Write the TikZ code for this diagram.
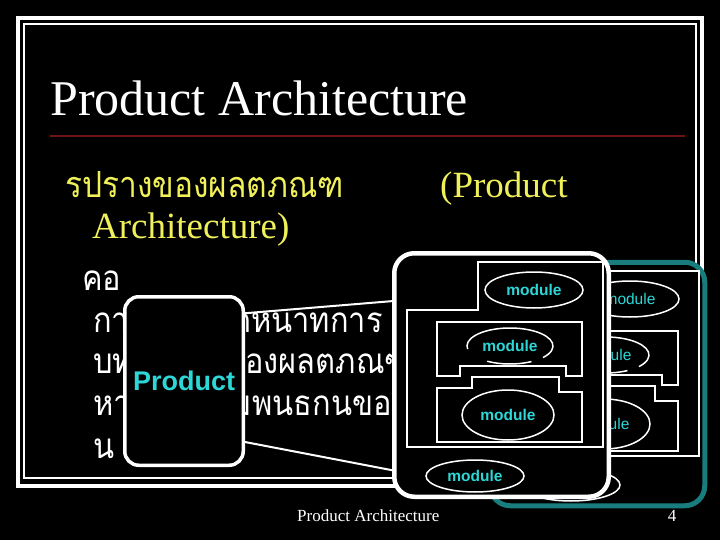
\documentclass[tikz,border=0pt]{standalone}
\usepackage{fontspec}
\setmainfont{Liberation Serif}
\newfontfamily\thai[Script=Thai, FakeStretch=0.88]{Loma}
\newfontfamily\arial{Liberation Sans}
\usetikzlibrary{shapes.geometric}
\definecolor{yel}{RGB}{240,240,90}
\definecolor{cyn}{RGB}{45,215,215}
\definecolor{tealb}{RGB}{25,125,125}
\definecolor{rulered}{RGB}{110,20,20}
\newcommand{\modgroup}[2]{%
  \draw[modline] (478,262) -- (603,262) -- (603,447) -- (407,447) -- (407,310) -- (478,310) -- cycle;
  \draw[modline] (437,322) -- (582,322) -- (582,376) -- (566,376) -- (566,366) -- (460,366) -- (460,376) -- (437,376) -- cycle;
  \draw[modline] (437,388) -- (472,388) -- (472,377) -- (559,377) -- (559,392) -- (582,392) -- (582,442) -- (437,442) -- cycle;
  \node[modell, minimum width=98pt, minimum height=36pt, font={#2}] (#1e1) at (534,290) {module};
  \node[modell, draw=none, minimum width=86pt, minimum height=36pt, font={#2}] (#1e2) at (510,346) {module};
  \draw[ellline] (#1e2.center) ++(190:43pt and 18pt) arc[start angle=190, end angle=-40, x radius=43pt, y radius=18pt];
  \draw[ellline] (#1e2.center) ++(238:43pt and 18pt) arc[start angle=238, end angle=300, x radius=43pt, y radius=18pt];
  \node[modell, minimum width=92pt, minimum height=50pt, font={#2}] (#1e3) at (508,415) {module};
  \node[modell, minimum width=98pt, minimum height=32pt, font={#2}] (#1e4) at (475,476) {module};
}
\begin{document}
\begin{tikzpicture}[x=1pt,y=-1pt,
  txt/.style={inner sep=0pt, anchor=base west, text=white},
  modline/.style={draw=white, line width=1.2pt},
  ellline/.style={draw=white, line width=1.5pt},
  modell/.style={ellipse, draw=white, line width=1.5pt, inner sep=0pt, text=cyn},
  bigbox/.style={rectangle, rounded corners=20pt, fill=black, minimum width=214.5pt, minimum height=243.5pt, inner sep=0pt},
  conn/.style={draw=white, line width=2pt}]
\fill[black] (0,0) rectangle (720,540);
\useasboundingbox (0,0) rectangle (720,540);
% frame
\draw[white, line width=4pt] (18,18) rectangle (702,486);
\draw[white, line width=1.2pt] (24,24) rectangle (696,478);
% title
\node[txt, font=\fontsize{50}{60}\selectfont] (title) at (50,116) {Product Architecture};
\draw[rulered, line width=1.5pt] (50,136) -- (685,136);
% yellow heading
\node[txt, text=yel, text depth=1pt, font=\thai\fontsize{36}{42}\selectfont] (h1) at (65,197) {รปรางของผลตภณฑ};
\node[txt, text=yel, font=\fontsize{37}{44}\selectfont] (h2) at (440,197) {(Product};
\node[txt, text=yel, text height=24pt, font=\fontsize{37}{44}\selectfont] (h3) at (92,238) {Architecture)};
% white thai body
\begin{scope}[every node/.append style={txt, text depth=1pt, font=\thai\fontsize{35}{40}\selectfont}]
\node (l0) at (82,290) {คอ};
\node (l1a) at (93,332) {การ};
\node (l1b) at (231,332) {ดหนาทการ};
\node (l2a) at (93,373) {บท};
\node (l2b) at (224,373) {ของผลตภณฑ};
\node (l3a) at (93,415) {หา};
\node (l3b) at (213,415) {สมพนธกนของ};
\node (l4) at (93,458) {น};
\end{scope}
% product box
\node[draw=white, line width=3.5pt, rounded corners=14pt, fill=black, minimum width=118.5pt, minimum height=168.5pt, inner sep=0pt, text=cyn, font={\arial\bfseries\fontsize{27}{30}\selectfont}] (prod) at (184,381) {Product};
% back group
\begin{scope}[shift={(96,9)}]
\node[bigbox, draw=tealb, line width=5pt] (tbox) at (501.5,375) {};
\modgroup{b}{\arial\fontsize{15.5}{18}\selectfont}
\end{scope}
% front group
\node[bigbox, draw=white, line width=4.5pt] (big) at (501.5,375) {};
\modgroup{f}{\arial\bfseries\fontsize{15.5}{18}\selectfont}
% connectors
\draw[conn] (prod.48) -- (big.146);
\draw[conn] (prod.-45) -- (big.221);
% footer
\node[txt, font=\fontsize{17}{20}\selectfont] (foot) at (297,521) {Product Architecture};
\node[txt, anchor=base, font=\fontsize{17}{20}\selectfont] (pg) at (672,521) {4};
\end{tikzpicture}
\end{document}
